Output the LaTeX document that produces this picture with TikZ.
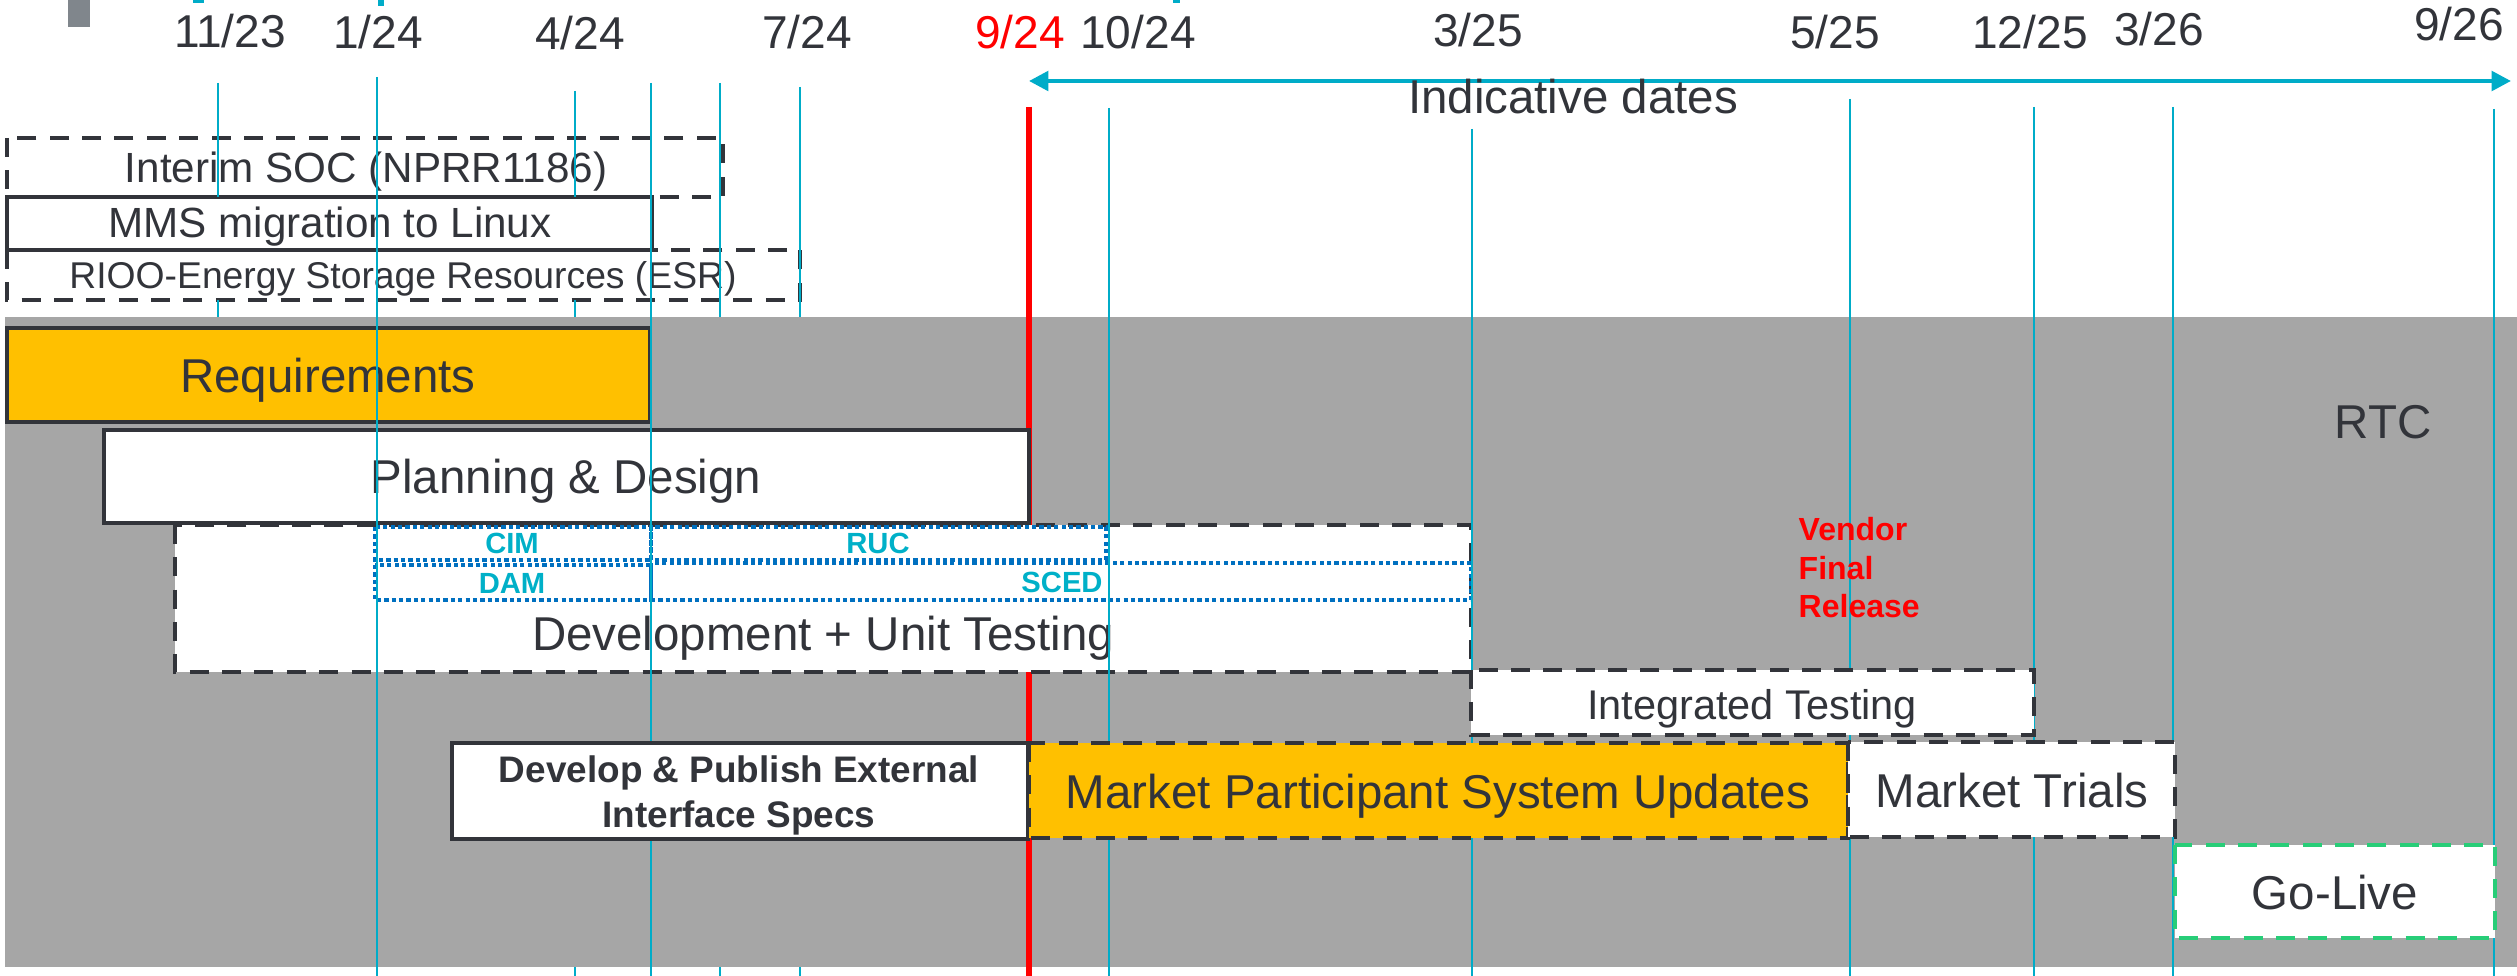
\documentclass[tikz,border=0pt]{standalone}
\usepackage{fontspec}
\setmainfont{Liberation Sans}
\usetikzlibrary{arrows.meta}
\definecolor{dk}{RGB}{50,52,58}
\definecolor{cyl}{RGB}{0,172,200}
\definecolor{cyt}{RGB}{0,176,200}
\definecolor{bld}{RGB}{0,112,192}
\definecolor{orng}{RGB}{255,192,0}
\definecolor{bgray}{RGB}{166,166,166}
\definecolor{mgray}{RGB}{128,134,140}
\definecolor{grn}{RGB}{40,205,120}
\newcommand\fsDate{\fontsize{13.1pt}{15pt}\selectfont}
\newcommand\fsBig{\fontsize{13.5pt}{16pt}\selectfont}
\newcommand\fsMid{\fontsize{12pt}{14pt}\selectfont}
\newcommand\fsSmall{\fontsize{10.6pt}{12.8pt}\selectfont}
\newcommand\fsIT{\fontsize{11.8pt}{14pt}\selectfont}
\newcommand\fsDP{\fontsize{10.5pt}{12.8pt}\selectfont\bfseries}
\newcommand\fsVR{\fontsize{9.1pt}{10.8pt}\selectfont\bfseries}
\newcommand\fsSub{\fontsize{8.3pt}{10pt}\selectfont\bfseries}
\tikzset{
  txt/.style={inner sep=0pt, anchor=base, text=dk},
  solidbox/.style={draw=dk, line width=1.35pt},
  dashbox/.style={draw=dk, line width=1.35pt, dash pattern=on 5.4pt off 3.8pt},
  greenbox/.style={draw=grn, line width=1.35pt, dash pattern=on 5.4pt off 3.8pt},
  dotbox/.style={draw=bld, line width=1.3pt, dash pattern=on 1.2pt off 0.9pt},
  vline/.style={draw=cyl, line width=0.6pt},
  subtxt/.style={inner sep=0pt, anchor=base, text=cyt, font=\fsSub},
}
\begin{document}
\begin{tikzpicture}[x=0.01cm,y=-0.01cm]
\useasboundingbox (0,0) rectangle (2517,976);
\fill[white] (0,0) rectangle (2517,976);
% gray band
\fill[bgray] (5,317) rectangle (2517,967);
% remnants at top
\fill[mgray] (68,0) rectangle (90,27);
\fill[cyl] (193,0) rectangle (204,3);
\fill[cyl] (378,0) rectangle (384,6);
\fill[cyl] (1173,0) rectangle (1180,3);

% date labels
\node[txt, font=\fsDate] (d1123) at (230,48) {11/23};
\node[txt, font=\fsDate] (d0124) at (378,49) {1/24};
\node[txt, font=\fsDate] (d0424) at (580,50) {4/24};
\node[txt, font=\fsDate] (d0724) at (807,49) {7/24};
\node[txt, font=\fsDate, text=red] (d0924) at (1020,49) {9/24};
\node[txt, font=\fsDate] (d1024) at (1138,49) {10/24};
\node[txt, font=\fsDate] (d0325) at (1478,47) {3/25};
\node[txt, font=\fsDate] (d0525) at (1835,49) {5/25};
\node[txt, font=\fsDate] (d1225) at (2030,49) {12/25};
\node[txt, font=\fsDate] (d0326) at (2159,46) {3/26};
\node[txt, font=\fsDate] (d0926) at (2459,41) {9/26};

% indicative dates arrow
\coordinate (arrL) at (1029,81);
\coordinate (arrR) at (2511,81);
\draw[cyl, line width=1.2pt, {Triangle[length=5.5pt,width=5.5pt]}-{Triangle[length=5.5pt,width=5.5pt]}] (arrL) -- (arrR);
\node[txt, font=\fsBig] (indic) at (1573,114) {Indicative dates};

% red today line
\draw[red, line width=1.5pt] (1029,107) -- (1029,976);

% top-section boxes
\draw[dashbox] (7,138) rectangle (723,197);
\draw[dashbox] (7,250) rectangle (800,300);
\draw[solidbox] (7,197) rectangle (652,250);
\node[txt, font=\fsMid] (soc) at (366,183) {Interim SOC (NPRR1186)};
\node[txt, font=\fsMid] (mms) at (330,238) {MMS migration to Linux};
\node[txt, font=\fsSmall] (rioo) at (403,288) {RIOO-Energy Storage Resources (ESR)};

% upper phase boxes
\filldraw[fill=orng, solidbox] (7,328) rectangle (650,422);
\node[txt, font=\fsBig] (req) at (328,393) {Requirements};
\filldraw[fill=white, dashbox, line width=1.2pt] (175,525) rectangle (1471,672);
\filldraw[fill=white, solidbox] (104,430) rectangle (1029,523);
\node[txt, font=\fsBig] (plan) at (566,493) {Planning \& Design};
\draw[dotbox] (375,527) rectangle (651,560);
\draw[dotbox] (651,527) rectangle (1106,560);
\draw[dotbox] (375,565) rectangle (651,600);
\draw[dotbox] (651,563) rectangle (1471,600);
\node[subtxt] (cim) at (512,554) {CIM};
\node[subtxt] (ruc) at (878,554) {RUC};
\node[subtxt] (dam) at (512,593) {DAM};
\node[subtxt] (sced) at (1062,592) {SCED};
\node[txt, font=\fsBig] (dev) at (823,650) {Development + Unit Testing};

% cyan date lines
\draw[vline] (218,83) -- (218,197) (218,300) -- (218,317);
\draw[vline] (377,77) -- (377,976);
\draw[vline] (575,91) -- (575,197) (575,300) -- (575,317) (575,967) -- (575,976);
\draw[vline] (651,83) -- (651,976);
\draw[vline] (720,83) -- (720,317) (720,967) -- (720,976);
\draw[vline] (800,87) -- (800,317) (800,967) -- (800,976);
\draw[vline] (1109,108) -- (1109,976);
\draw[vline] (1472,129) -- (1472,976);
\draw[vline] (1850,99) -- (1850,976);
\draw[vline] (2034,107) -- (2034,976);
\draw[vline] (2173,107) -- (2173,976);
\draw[vline] (2494,109) -- (2494,976);

% labels on gray
\node[txt, font=\fsBig] (rtc) at (2383,439) {RTC};
\node[txt, font=\fsVR, text=red, anchor=base west] (vend) at (1798,541) {Vendor};
\node[txt, font=\fsVR, text=red, anchor=base west] (fin) at (1798,579) {Final};
\node[txt, font=\fsVR, text=red, anchor=base west] (rel) at (1798,617) {Release};

% lower phase boxes
\filldraw[fill=white, dashbox] (1471,670) rectangle (2034,735);
\node[txt, font=\fsIT] (integ) at (1752,719) {Integrated Testing};
\filldraw[fill=white, solidbox] (452,743) rectangle (1028,839);
\node[txt, font=\fsDP] (dp1) at (739,782) {Develop \& Publish External};
\node[txt, font=\fsDP] (dp2) at (739,827) {Interface Specs};
\filldraw[fill=orng, dashbox] (1029,743) rectangle (1848,838);
\node[txt, font=\fsBig] (mpsu) at (1438,808) {Market Participant System Updates};
\filldraw[fill=white, dashbox] (1848,742) rectangle (2175,837);
\node[txt, font=\fsBig] (trials) at (2012,807) {Market Trials};
\filldraw[fill=white, greenbox] (2175,845) rectangle (2495,938);
\node[txt, font=\fsBig] (golive) at (2335,909) {Go-Live};
\end{tikzpicture}
\end{document}
